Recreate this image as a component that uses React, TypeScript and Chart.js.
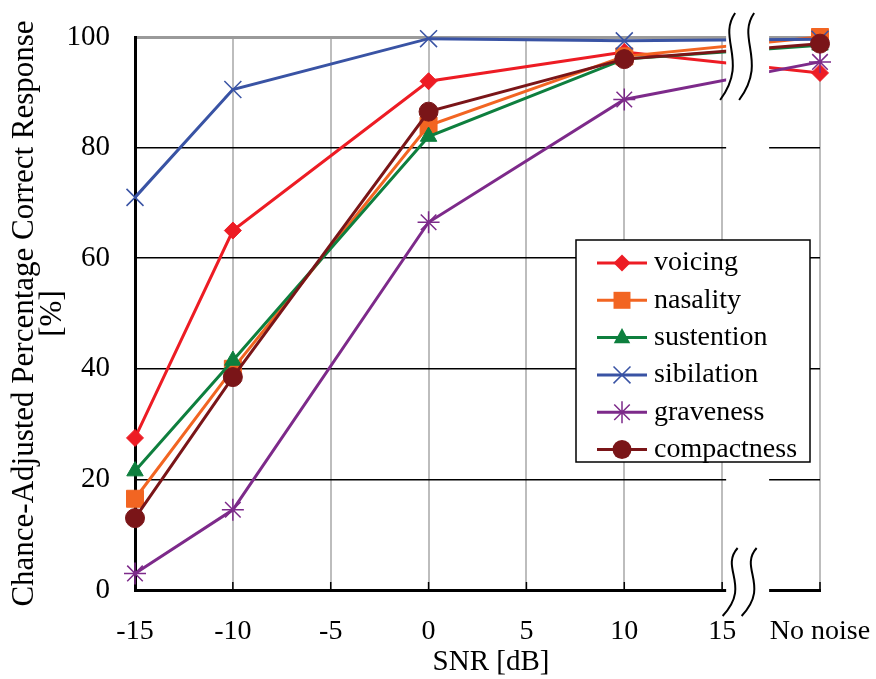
import React, { useEffect, useRef } from "react";
import { Chart, registerables } from "chart.js";

Chart.register(...registerables);

const categories = ["-15", "-10", "-5", "0", "5", "10", "15", "No noise"];
const voicing = [27.5, 65, null, 92, null, 97.3, null, 93.5];
const nasality = [16.5, 40, null, 84, null, 96.5, null, 100];
const sustention = [21.5, 41.5, null, 82, null, 96, null, 98.5];
const sibilation = [71, 90.5, null, 99.7, null, 99.3, null, 99.6];
const graveness = [3, 14.5, null, 66.5, null, 88.7, null, 95.5];
const compactness = [13, 38.5, null, 86.5, null, 96, null, 98.8];
const xTitle = "SNR [dB]";
const yTitle = ["Chance-Adjusted Percentage Correct Response", "[%]"];

const seriesNames = ["voicing", "nasality", "sustention", "sibilation", "graveness", "compactness"];
const seriesData = [voicing, nasality, sustention, sibilation, graveness, compactness];
const seriesColors = ["#ED1C24", "#F26522", "#0E7F3E", "#3953A4", "#7D2A8A", "#7A1518"];
const seriesStyles = ["rectRot", "rect", "triangle", "crossRot", "star", "circle"];
const seriesRadius = [8.5, 12, 9.5, 12, 11, 9.5];

const FONT = '"Liberation Serif", "Times New Roman", serif';

function drawMarker(ctx: CanvasRenderingContext2D, style: string, x: number, y: number, r: number, color: string) {
  ctx.save();
  ctx.fillStyle = color;
  ctx.strokeStyle = color;
  ctx.lineWidth = 1.5;
  ctx.beginPath();
  if (style === "rectRot") {
    ctx.moveTo(x, y - r); ctx.lineTo(x + r, y); ctx.lineTo(x, y + r); ctx.lineTo(x - r, y); ctx.closePath(); ctx.fill();
  } else if (style === "rect") {
    const s = r * Math.SQRT1_2;
    ctx.rect(x - s, y - s, 2 * s, 2 * s); ctx.fill();
  } else if (style === "triangle") {
    ctx.moveTo(x, y - r); ctx.lineTo(x + r * 0.866, y + r * 0.5 + 1); ctx.lineTo(x - r * 0.866, y + r * 0.5 + 1); ctx.closePath(); ctx.fill();
  } else if (style === "crossRot") {
    const s = r * Math.SQRT1_2;
    ctx.moveTo(x - s, y - s); ctx.lineTo(x + s, y + s); ctx.moveTo(x - s, y + s); ctx.lineTo(x + s, y - s); ctx.stroke();
  } else if (style === "star") {
    const s = r * Math.SQRT1_2;
    ctx.moveTo(x - s, y - s); ctx.lineTo(x + s, y + s); ctx.moveTo(x - s, y + s); ctx.lineTo(x + s, y - s);
    ctx.moveTo(x, y - r); ctx.lineTo(x, y + r); ctx.moveTo(x - r, y); ctx.lineTo(x + r, y); ctx.stroke();
  } else {
    ctx.arc(x, y, r, 0, Math.PI * 2); ctx.fill();
  }
  ctx.restore();
}

const breakPlugin = {
  id: "axisBreak",
  afterDatasetsDraw(chart: any) {
    const ctx = chart.ctx as CanvasRenderingContext2D;
    const x = chart.scales.x;
    const area = chart.chartArea;
    ctx.save();
    ctx.strokeStyle = "#000";
    ctx.lineWidth = 1.5;
    for (let i = 1; i < categories.length; i++) {
      const px = x.getPixelForTick(i);
      ctx.beginPath(); ctx.moveTo(px, area.bottom - 8); ctx.lineTo(px, area.bottom); ctx.stroke();
    }
    const p15 = x.getPixelForTick(6);
    const pNo = x.getPixelForTick(7);
    const bx0 = p15 + 4;
    const bx1 = p15 + (pNo - p15) * 0.48;
    ctx.fillStyle = "#fff";
    ctx.fillRect(bx0, area.top - 6, bx1 - bx0, area.bottom - area.top + 10);
    ctx.strokeStyle = "#000";
    ctx.lineWidth = 2;
    const squiggle = (sx: number, top: number, h: number) => {
      ctx.beginPath();
      ctx.moveTo(sx + 12, top);
      ctx.bezierCurveTo(sx - 6, top + h * 0.3, sx + 26, top + h * 0.55, sx - 3, top + h);
      ctx.stroke();
    };
    const cx = (bx0 + bx1) / 2;
    squiggle(cx - 24.5, area.top - 24, 87);
    squiggle(cx - 5.5, area.top - 24, 87);
    squiggle(cx - 22, area.bottom - 42, 68);
    squiggle(cx - 3, area.bottom - 42, 68);
    ctx.restore();
  },
  afterDraw(chart: any) {
    const ctx = chart.ctx as CanvasRenderingContext2D;
    ctx.save();
    ctx.fillStyle = "#000";
    ctx.font = `29px ${FONT}`;
    ctx.textAlign = "center";
    ctx.textBaseline = "middle";
    ctx.fillText(xTitle, 491, 662);
    const bx = 576, by = 240, bw = 234, bh = 222;
    ctx.fillStyle = "#fff";
    ctx.fillRect(bx, by, bw, bh);
    ctx.strokeStyle = "#000";
    ctx.lineWidth = 1.5;
    ctx.strokeRect(bx, by, bw, bh);
    ctx.font = `28px ${FONT}`;
    ctx.textBaseline = "middle";
    ctx.textAlign = "left";
    for (let i = 0; i < seriesNames.length; i++) {
      const y = 263 + i * 37.3;
      ctx.strokeStyle = seriesColors[i];
      ctx.lineWidth = 3;
      ctx.beginPath(); ctx.moveTo(597, y); ctx.lineTo(647, y); ctx.stroke();
      drawMarker(ctx, seriesStyles[i], 622, y, seriesRadius[i], seriesColors[i]);
      ctx.fillStyle = "#000";
      ctx.fillText(seriesNames[i], 654, y);
    }
    ctx.restore();
  },
};

export default function App() {
  const ref = useRef<HTMLCanvasElement>(null);
  useEffect(() => {
    document.body.style.margin = "0";
    const datasets = seriesNames.map((name, i) => ({
      label: name,
      data: seriesData[i],
      borderColor: seriesColors[i],
      backgroundColor: seriesColors[i],
      borderWidth: 3,
      pointStyle: seriesStyles[i] as any,
      pointRadius: seriesRadius[i],
      pointBorderWidth: seriesStyles[i] === "crossRot" || seriesStyles[i] === "star" ? 1.5 : 1,
      pointBackgroundColor: seriesColors[i],
      pointBorderColor: seriesColors[i],
      spanGaps: true,
      tension: 0,
      clip: false as any,
      order: 5 - i,
    }));
    const chart = new Chart(ref.current!, {
      type: "line",
      data: { labels: categories, datasets },
      options: {
        animation: false,
        responsive: false,
        layout: { padding: { left: 0, right: 56, top: 37, bottom: 1 } },
        plugins: { legend: { display: false }, tooltip: { enabled: false } },
        scales: {
          x: {
            offset: false,
            grid: { color: "#BDBDBD", lineWidth: 2, drawTicks: false },
            border: { display: true, color: "#000", width: 3 },
            ticks: { color: "#000", font: { family: FONT, size: 28, lineHeight: 1.2 }, padding: 25, maxRotation: 0, autoSkip: false },
            title: { display: false },
            afterFit: (s: any) => { s.height = 88; s.paddingLeft = 0; s.paddingRight = 0; },
          },
          y: {
            min: 0,
            max: 100,
            ticks: { stepSize: 20, color: "#000", font: { family: FONT, size: 29 }, padding: 25 },
            grid: {
              drawTicks: false,
              color: (c: any) => (c.tick && c.tick.value === 100 ? "#9A9A9A" : "#000"),
              lineWidth: (c: any) => (c.tick && c.tick.value === 100 ? 3 : 1.5),
            },
            border: { display: true, color: "#000", width: 3 },
            title: {
              display: true,
              text: yTitle,
              color: "#000",
              font: { family: FONT, size: 31, lineHeight: 0.9 },
              padding: { top: 11, bottom: 0 },
            },
            afterFit: (s: any) => { s.width = 135; s.paddingTop = 0; s.paddingBottom = 0; },
          },
        },
      },
      plugins: [breakPlugin],
    });
    return () => chart.destroy();
  }, []);
  return <canvas ref={ref} width={876} height={679} style={{ display: "block" }} />;
}
